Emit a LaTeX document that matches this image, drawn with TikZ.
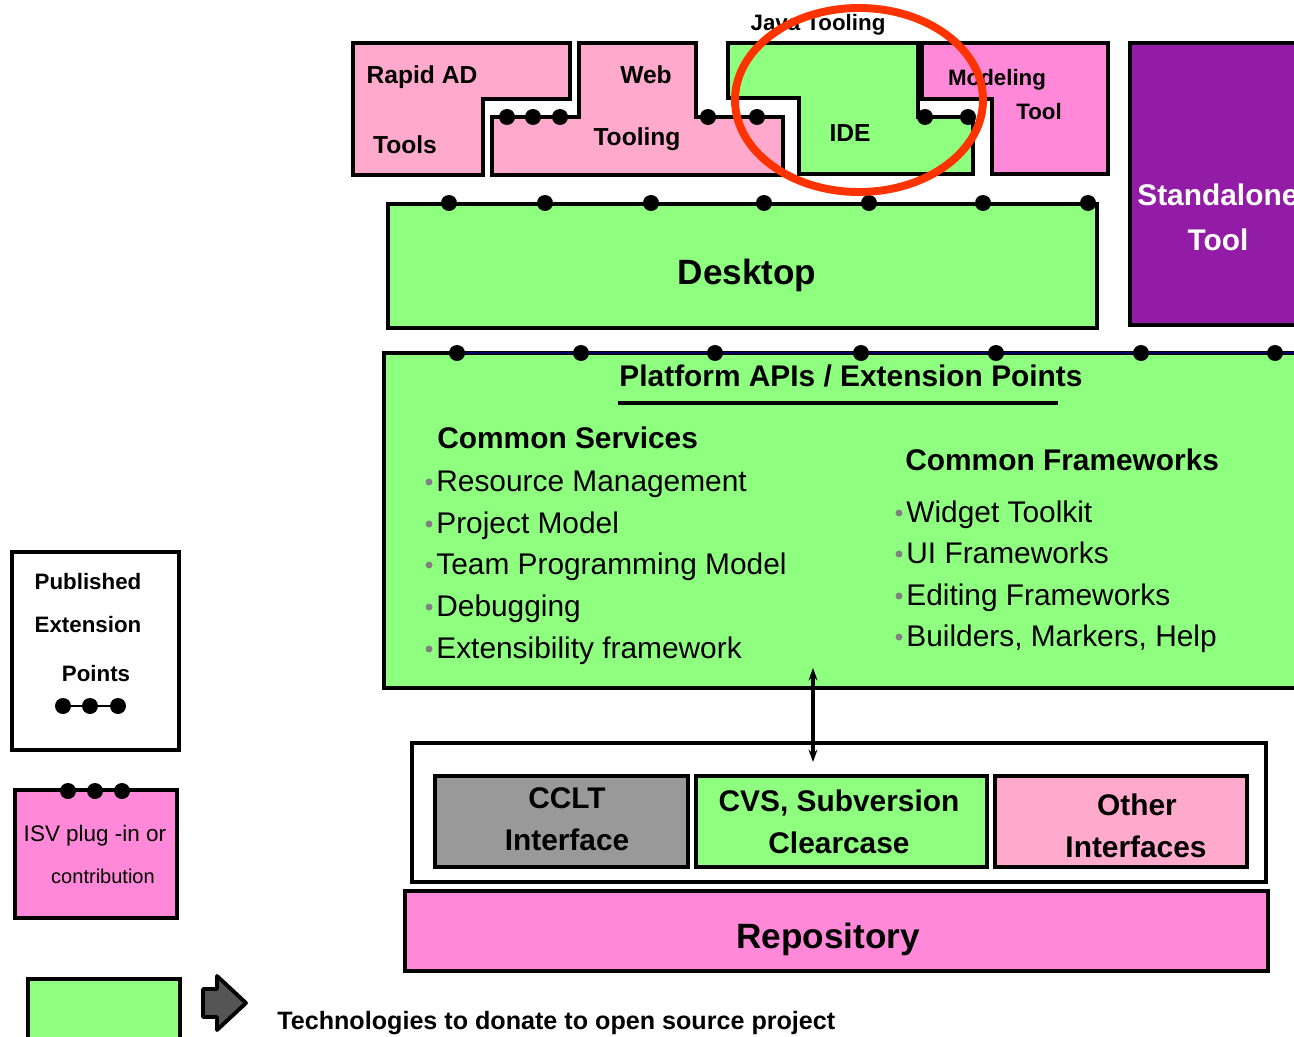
\documentclass[tikz,border=0pt]{standalone}
\usepackage{fontspec}
\setmainfont{Liberation Sans}
\usetikzlibrary{arrows.meta}

\definecolor{apigreen}{RGB}{143,255,128}
\definecolor{pinklight}{RGB}{255,170,204}
\definecolor{pinkhot}{RGB}{255,136,216}
\definecolor{toolpurple}{RGB}{146,28,166}
\definecolor{cclgrey}{RGB}{153,153,153}
\definecolor{markred}{RGB}{255,51,0}
\definecolor{apinavy}{RGB}{0,0,102}
\definecolor{arrowgrey}{RGB}{85,85,85}
\definecolor{bulgrey}{RGB}{128,128,128}

\begin{document}
\begin{tikzpicture}[
			x=0.02cm, y=-0.02cm,
			>=Stealth,
			box/.style={draw, line width=2.4pt, line join=miter},
			lbl/.style={font=\fontsize{#1}{#1}\selectfont\bfseries, inner sep=0pt, text depth=0pt},
			itm/.style={font=\fontsize{17}{17}\selectfont, inner sep=0pt, text depth=0pt, anchor=west},
			link/.style={line width=1.6pt}
			]
			\useasboundingbox (0,0) rectangle (1294,1037);
			\clip (0,0) rectangle (1294,1037);
			
			% --- Narzedzia (gorny rzad) ---
			\draw[box, fill=pinklight] (353,43) -- (570,43) -- (570,99) -- (483,99) -- (483,175) -- (353,175) -- cycle; % Rapid AD Tools
			\draw[box, fill=pinklight] (579,43) -- (696,43) -- (696,117) -- (783,117) -- (783,175) -- (492,175) -- (492,117) -- (579,117) -- cycle; % Web Tooling
			\draw[box, fill=apigreen] (728,43) -- (918,43) -- (918,117) -- (973,117) -- (973,174) -- (799,174) -- (799,98) -- (728,98) -- cycle; % Java IDE
			\draw[box, fill=pinkhot] (922,43) -- (1108,43) -- (1108,174) -- (992,174) -- (992,99) -- (922,99) -- cycle; % Modeling Tool
			\draw[box, fill=toolpurple] (1130,43) rectangle (1320,325); % Standalone Tool
			
			\node[lbl=12.7] (javatxt) at (818,22) {Java Tooling};
			\node[lbl=14] (rapidtxt) at (422,75) {Rapid AD};
			\node[lbl=14] (toolstxt) at (405,145) {Tools};
			\node[lbl=14] (webtxt) at (646,75) {Web};
			\node[lbl=14] (wtooltxt) at (637,137) {Tooling};
			\node[lbl=14] (idetxt) at (850,133) {IDE};
			\node[lbl=12.7] (modtxt) at (997,77) {Modeling};
			\node[lbl=12.7] (mtooltxt) at (1039,111) {Tool};
			\node[lbl=17, text=white, anchor=west] (stdtxt) at (1137,195) {Standalone};
			\node[lbl=17, text=white] (stdtool) at (1218,240) {Tool};
			
			% punkty rozszerzen na narzedziach
			\foreach \x in {507,533,560,708,757,925,968}
				\fill (\x,117) circle (8);
			
			% --- Desktop ---
			\draw[box, fill=apigreen] (388,204) rectangle (1097,328);
			\foreach \x in {449,545,651,764,869,983,1088}
				\fill (\x,203) circle (8);
			\node[lbl=20] (desktxt) at (747,272) {Desktop};
			
			% --- Platform APIs ---
			\draw[box, fill=apigreen] (384,353) rectangle (1320,688);
			\draw[apinavy, line width=1.5pt] (457,353) -- (1300,353);
			\foreach \x in {457,581,715,861,996,1141,1275}
				\fill (\x,353) circle (8);
			\node[lbl=17] (apitxt) at (851,376) {Platform APIs / Extension Points};
			\draw[line width=2pt] (618,403) -- (1058,403);
			
			\node[lbl=17, anchor=west] (svctxt) at (437,438) {Common Services};
			\foreach \y/\t in {481/Resource Management, 523/Project Model, 564/Team Programming Model, 606/Debugging, 648/Extensibility framework}{
				\fill[bulgrey] (429,\y+1) circle (3.5);
				\node[itm] (svc\y) at (436,\y) {\t};
			}
			\node[lbl=17, anchor=west] (fwtxt) at (905,460) {Common Frameworks};
			\foreach \y/\t in {512/Widget Toolkit, 553/UI Frameworks, 595/Editing Frameworks, 636/{Builders, Markers, Help}}{
				\fill[bulgrey] (899,\y+1) circle (3.5);
				\node[itm] (fw\y) at (906,\y) {\t};
			}
			
			% --- Interfejsy repozytorium ---
			\draw[box, fill=white] (412,743) rectangle (1266,882);
			\coordinate (apiS) at (813,668);
			\coordinate (scmN) at (813,762);
			\draw[{Stealth[length=7pt,width=5pt]}-{Stealth[length=7pt,width=5pt]}, line width=1.8pt] (apiS) -- (scmN);
			
			\draw[box, fill=cclgrey] (435,776) rectangle (688,867);
			\draw[box, fill=apigreen] (696,776) rectangle (987,867);
			\draw[box, fill=pinklight] (995,776) rectangle (1247,867);
			\node[lbl=17] (cclttxt) at (567,798) {CCLT};
			\node[lbl=17] (cclt2) at (567,840) {Interface};
			\node[lbl=17] (cvstxt) at (839,801) {CVS, Subversion};
			\node[lbl=17] (cvs2) at (839,843) {Clearcase};
			\node[lbl=17] (othtxt) at (1137,805) {Other};
			\node[lbl=17] (oth2) at (1136,847) {Interfaces};
			
			\draw[box, fill=pinkhot] (405,891) rectangle (1268,971);
			\node[lbl=20] (repotxt) at (828,936) {Repository};
			
			% --- Zaznaczenie IDE ---
			\draw[markred, line width=4.5pt] (859,100) ellipse (124 and 92);
			
			% --- Legenda ---
			\draw[box, fill=white] (12,552) rectangle (179,750);
			\node[lbl=12.7] (pubtxt) at (88,581) {Published};
			\node[lbl=12.7] (exttxt) at (88,624) {Extension};
			\node[lbl=12.7] (pnttxt) at (96,673) {Points};
			\draw[link] (63,706) -- (118,706);
			\foreach \x in {63,90,118}
				\fill (\x,706) circle (8);
			
			\draw[box, fill=pinkhot] (15,790) rectangle (177,918);
			\draw[link] (68,791) -- (122,791);
			\foreach \x in {68,95,122}
				\fill (\x,791) circle (8);
			\node[font=\fontsize{12.8}{12.8}\selectfont, inner sep=0pt] (isvtxt) at (95,836) {ISV plug -in or};
			\node[font=\fontsize{11.4}{11.4}\selectfont, inner sep=0pt] (contrtxt) at (103,876) {contribution};
			
			\draw[box, fill=apigreen] (28,979) rectangle (180,1050);
			\draw[line width=2.2pt, fill=arrowgrey, line join=round] (203,989) -- (217,989) -- (217,976) -- (246,1003) -- (217,1030) -- (217,1017) -- (203,1017) -- cycle;
			\node[lbl=14.3, anchor=west] (dontxt) at (277,1020) {Technologies to donate to open source project};
			
		\end{tikzpicture}
\end{document}
